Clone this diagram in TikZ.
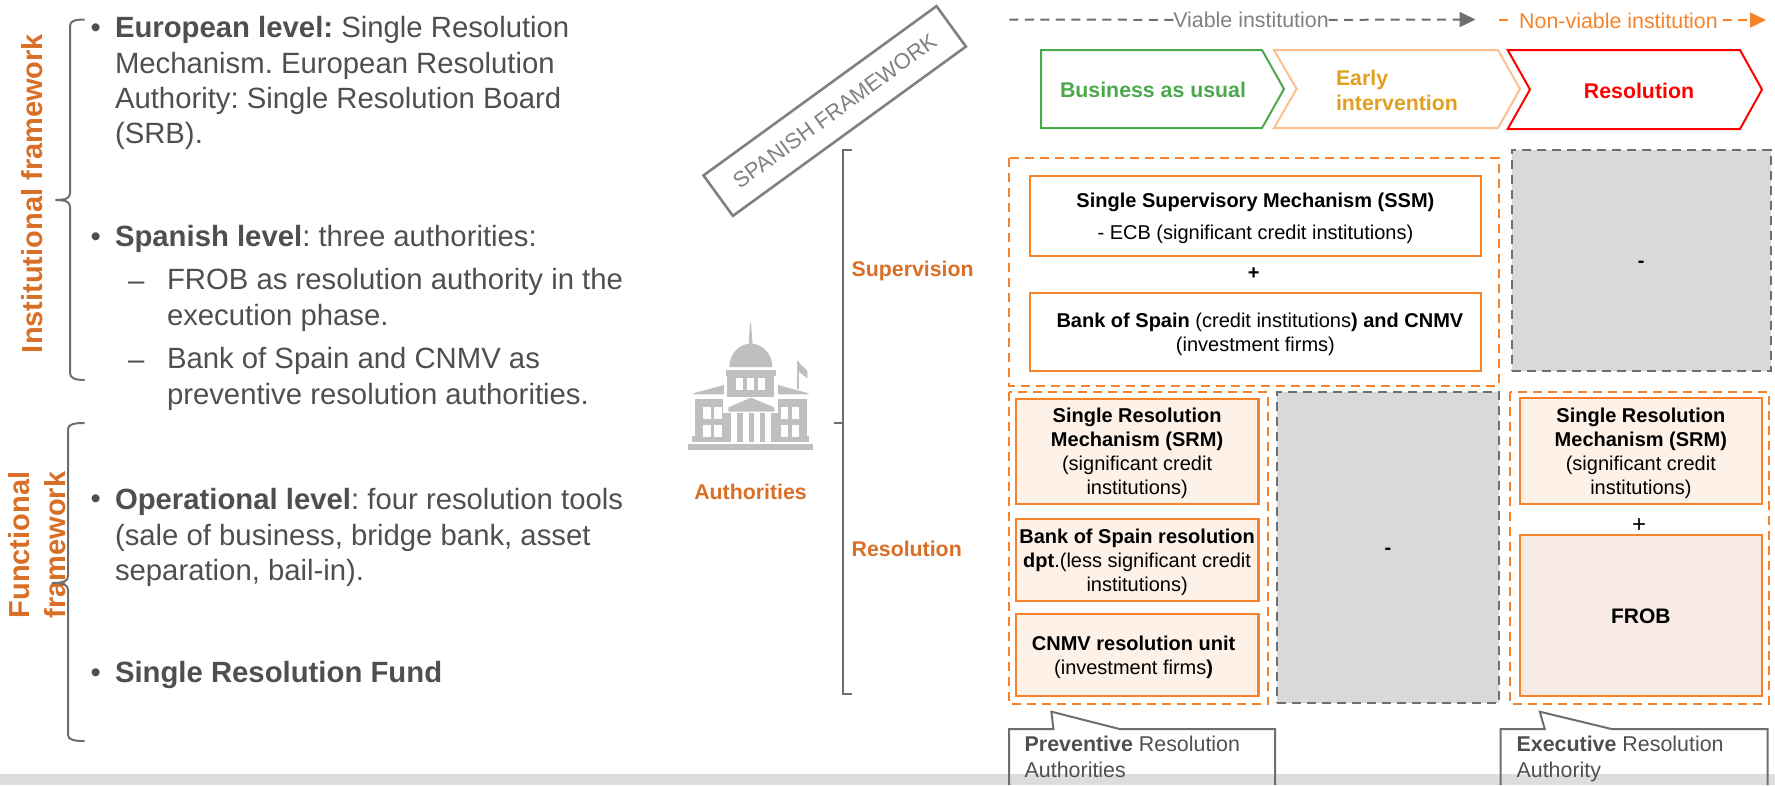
\documentclass[tikz,border=0pt]{standalone}
\usepackage{fontspec}
\setmainfont{Liberation Sans}
\frenchspacing
\usetikzlibrary{arrows.meta}
\definecolor{brownorange}{HTML}{D96F26}
\definecolor{boxorange}{HTML}{F7822A}
\definecolor{lightorange}{HTML}{FBC090}
\definecolor{earlytext}{HTML}{E09F1F}
\definecolor{bizgreen}{HTML}{4BA84B}
\definecolor{linegray}{HTML}{6E6E6E}
\definecolor{textgray}{HTML}{4F4F4F}
\definecolor{labelgray}{HTML}{808080}
\definecolor{boxgray}{HTML}{D9D9D9}
\definecolor{iconcol}{HTML}{BFBFBF}
\definecolor{softfill}{HTML}{FDF1E8}
\definecolor{frobfill}{HTML}{F8EAE4}
\newcommand{\toppad}{\rule{0pt}{18.5pt}}
\newcommand{\dashpad}{\rule{0pt}{14pt}}
\tikzset{
  every node/.style={inner sep=0pt, outer sep=0pt},
  bodytext/.style={anchor=west, align=left, text=textgray, font=\fontsize{29.3}{35.3}\selectfont},
  sidetitle/.style={rotate=90, align=center, text=brownorange, font=\bfseries\fontsize{29}{35.5}\selectfont},
  rowtitle/.style={text=brownorange, font=\bfseries\fontsize{21.3}{25}\selectfont},
  steptitle/.style={font=\bfseries\fontsize{21.3}{25}\selectfont},
  dashgray/.style={linegray, line width=2pt, dash pattern=on 9pt off 6.5pt},
  dashorange/.style={boxorange, line width=2pt, dash pattern=on 9pt off 6pt},
  solidbox/.style={draw=boxorange, line width=2.2pt, align=center, font=\fontsize{20}{24}\selectfont},
  grayblock/.style={draw=linegray, fill=boxgray, line width=2pt, dash pattern=on 9pt off 6pt},
  notetext/.style={anchor=north west, align=left, text=textgray, font=\fontsize{21.4}{25.7}\selectfont},
  bracket/.style={linegray, line width=2pt},
  tipgray/.style={-{Triangle[width=15pt,length=16pt]}},
}
\begin{document}
\begin{tikzpicture}[x=1pt, y=-1pt]
\useasboundingbox (0,0) rectangle (1775,785);
\fill[boxgray!90!white] (0,774) rectangle (1775,785); % bottom band

% left column
\node[sidetitle] (insttitle) at (32.5,193.5) {Institutional framework};
\node[sidetitle] (functitle) at (37,545) {Functional\\framework};
\draw[bracket] (84.6,19.5) .. controls (75,19.5) and (70,21) .. (70,26) -- (70,193) .. controls (70,198) and (66,200) .. (55.5,200) .. controls (66,200) and (70,202) .. (70,207) -- (70,373) .. controls (70,378) and (75,380) .. (84.6,380);
\draw[bracket] (84.6,423) .. controls (75,423) and (68,424) .. (68,429) -- (68,576) .. controls (68,581) and (64,583) .. (52,583) .. controls (64,583) and (68,585) .. (68,590) -- (68,735) .. controls (68,740) and (75,741) .. (84.6,741);

\foreach \y/\n in {30.8/a, 239.2/b, 501.5/c, 675.2/d}
  \node[bodytext] (bullet\n) at (90.5,\y) {\textbullet};
\foreach \y/\n in {286/a, 365/b}
  \node[bodytext] (dash\n) at (128,\y) {--};
\node[bodytext] (european) at (115,83.2) {\textbf{European level:} Single Resolution\\Mechanism. European Resolution\\Authority: Single Resolution Board\\(SRB).};
\node[bodytext] (spanish) at (115,239) {\textbf{Spanish level}: three authorities:};
\node[bodytext] (frobline) at (167,300) {FROB as resolution authority in the\\execution phase.};
\node[bodytext] (bankline) at (167,379) {Bank of Spain and CNMV as\\preventive resolution authorities.};
\node[bodytext] (operational) at (115,537.5) {\textbf{Operational level}: four resolution tools\\(sale of business, bridge bank, asset\\separation, bail-in).};
\node[bodytext] (fund) at (115,675) {\textbf{Single Resolution Fund}};

% tilted title
\node[draw=labelgray, line width=2.6pt, minimum width=288pt, minimum height=50pt, rotate=36, text=labelgray, font=\fontsize{21.9}{25}\selectfont] (spanishbox) at (834.7,111) {SPANISH FRAMEWORK};

% building icon
\begin{scope}[shift={(670,300)}, x=0.3333pt, y=-0.3333pt]
  \fill[iconcol] (55,432) rectangle (430,449);
  \fill[iconcol] (65,408) rectangle (418,426);
  \fill[iconcol] (75,296) rectangle (183,410);
  \fill[iconcol] (302,296) rectangle (410,410);
  \fill[iconcol] (70,280) -- (162,255) -- (162,283) -- (70,283) -- cycle;
  \fill[iconcol] (416,280) -- (324,255) -- (324,283) -- (416,283) -- cycle;
  \fill[iconcol] (172,228) rectangle (312,292);
  \fill[iconcol] (167,210) rectangle (317,228);
  \fill[iconcol] (178,201) arc[start angle=180, end angle=0, x radius=64.5, y radius=-70] -- cycle;
  \fill[iconcol] (236,135) -- (240,68) -- (243,68) -- (248,135) -- cycle;
  \fill[white] (160,290) rectangle (325,338);
  \fill[iconcol] (175,322) -- (243,293) -- (313,322) -- (313,335) -- (175,335) -- cycle;
  \fill[white] (183,338) rectangle (302,426);
  \foreach \xa in {202,236,270}
    \fill[iconcol] (\xa,338) rectangle (\xa+16,426);
  \foreach \xa in {197,231,264}
    \fill[white] (\xa,235) rectangle (\xa+21,270);
  \foreach \xa in {100,133,332,365} {
    \fill[white] (\xa,322) rectangle (\xa+22,357);
    \fill[white] (\xa,375) rectangle (\xa+22,410);
  }
  \fill[iconcol] (381,183) rectangle (386,268);
  \fill[iconcol] (386,188) -- (412,212) -- (412,235) -- (386,215) -- cycle;
\end{scope}
\node[rowtitle] (authlabel) at (750.5,492) {Authorities};

% square bracket and row labels
\draw[bracket] (851.7,150) -- (843.3,150) -- (843.3,694) -- (851.7,694);
\draw[bracket] (834,423) -- (843.3,423);
\node[rowtitle, anchor=west] (suplabel) at (851.7,271) {Supervision};
\node[rowtitle, anchor=west] (reslabel) at (851.7,548.5) {Resolution};

% top arrows
\coordinate (viablestart) at (1009,19.5);
\coordinate (viableend) at (1475.5,19.5);
\node[text=labelgray, font=\fontsize{21.4}{25}\selectfont] (viablelabel) at (1251,20) {Viable institution};
\draw[dashgray] (viablelabel) -- (viablestart);
\draw[dashgray, tipgray] (viablelabel) -- (viableend);
\coordinate (nonstart) at (1499,20);
\coordinate (nonend) at (1766,20);
\node[text=boxorange, font=\fontsize{21.4}{25}\selectfont] (nonlabel) at (1618.5,20.5) {Non-viable institution};
\draw[dashorange] (nonstart) -- (1508,20);
\draw[dashorange, tipgray, shorten <=5pt] (nonlabel) -- (nonend);

% phases
\draw[bizgreen, line width=2pt] (1041,50) -- (1262,50) -- (1284,89) -- (1262,128) -- (1041,128) -- cycle;
\draw[lightorange, line width=2pt] (1274,50) -- (1498,50) -- (1520,89) -- (1498,128) -- (1274,128) -- (1296.6,89) -- cycle;
\draw[red, line width=2pt] (1507.7,50) -- (1740,50) -- (1762,89.5) -- (1740,129) -- (1507.7,129) -- (1530,89.5) -- cycle;
\node[steptitle, text=bizgreen] (bizlabel) at (1153,90) {Business as usual};
\node[steptitle, text=earlytext, anchor=west, align=left] (earlylabel) at (1336,90.5) {Early\\intervention};
\node[steptitle, text=red] (resphase) at (1639,90.7) {Resolution};

% supervision row
\draw[dashorange] (1009,158) rectangle (1499,385.7);
\node[solidbox, minimum width=451pt, minimum height=80pt] (ssm) at (1255.4,216) {\toppad\textbf{Single Supervisory Mechanism (SSM)}\\[8pt]- ECB (significant credit institutions)};
\node[font=\bfseries\fontsize{20}{24}\selectfont] (plusa) at (1253.6,274) {+};
\node[solidbox, minimum width=451pt, minimum height=78pt] (spain) at (1255.4,332) {\toppad\hspace*{9pt}\textbf{Bank of Spain} (credit institutions\textbf{) and CNMV}\\(investment firms)};
\node[grayblock, minimum width=259.4pt, minimum height=221pt, font=\bfseries\fontsize{20}{24}\selectfont] (graytop) at (1641.3,260.5) {\dashpad-};

% resolution row
\draw[dashorange] (1009,391.7) rectangle (1268.4,704);
\draw[dashorange] (1509.6,392) rectangle (1768.7,704);
\node[solidbox, fill=softfill, minimum width=242.7pt, minimum height=105pt] (srmleft) at (1137.1,451.5) {\toppad\textbf{Single Resolution}\\\textbf{Mechanism (SRM)}\\(significant credit\\institutions)};
\node[solidbox, fill=softfill, minimum width=242.7pt, minimum height=82pt] (bankres) at (1137.1,560) {\toppad\textbf{Bank of Spain resolution}\\\textbf{dpt}.(less significant credit\\institutions)};
\node[solidbox, fill=softfill, minimum width=242.7pt, minimum height=82.3pt] (cnmv) at (1137.1,655.2) {\toppad\textbf{CNMV resolution unit}\hspace*{7pt}\\(investment firms\textbf{)}\hspace*{7pt}};
\node[grayblock, minimum width=222.2pt, minimum height=311pt, font=\bfseries\fontsize{20}{24}\selectfont] (graymid) at (1387.9,547.5) {\dashpad-};
\node[solidbox, fill=softfill, minimum width=241.7pt, minimum height=106.3pt] (srmright) at (1640.85,450.85) {\toppad\textbf{Single Resolution}\\\textbf{Mechanism (SRM)}\\(significant credit\\institutions)};
\node[font=\fontsize{24}{26}\selectfont] (plusb) at (1639,526) {+};
\node[solidbox, fill=frobfill, minimum width=241.7pt, minimum height=161pt, font=\bfseries\fontsize{21}{24}\selectfont] (frob) at (1640.85,615.8) {FROB};

% notes at the bottom
\draw[bracket] (1009,785) -- (1009,729) -- (1053.4,729) -- (1051.4,711.7) -- (1119.6,729) -- (1275,729) -- (1275,785);
\node[notetext] (prevnote) at (1024.7,736) {\textbf{Preventive} Resolution\\Authorities};
\draw[bracket] (1500.7,785) -- (1500.7,729) -- (1544.7,729) -- (1539.8,711.7) -- (1611.5,729) -- (1767.7,729) -- (1767.7,785);
\node[notetext] (execnote) at (1516.6,736) {\textbf{Executive} Resolution\\Authority};
\end{tikzpicture}
\end{document}
